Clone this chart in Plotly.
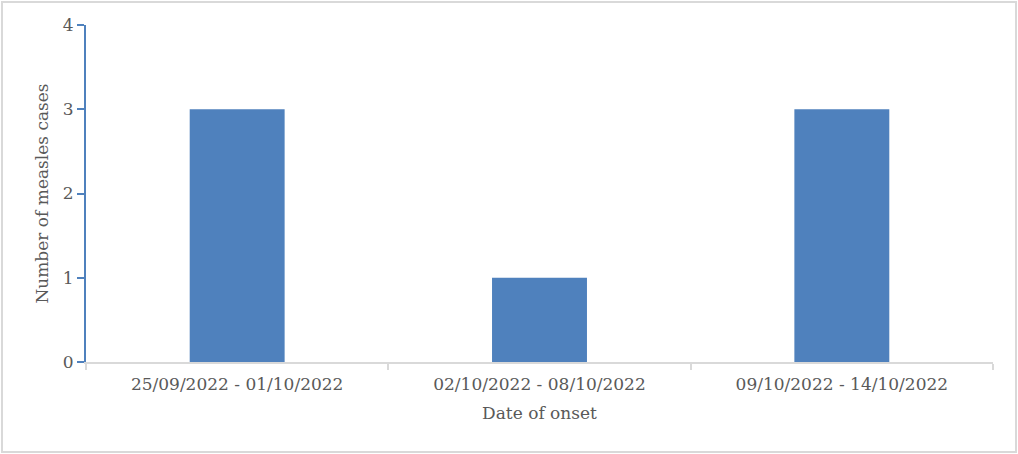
import plotly.graph_objects as go

categories = ["25/09/2022 - 01/10/2022", "02/10/2022 - 08/10/2022", "09/10/2022 - 14/10/2022"]
cases = [3, 1, 3]
y_ticks = [0, 1, 2, 3, 4]

W, H = 1018, 454
ml, mr, mt, mb = 86, 25, 25, 92
pw, ph = W - ml - mr, H - mt - mb

def px_x(x):
    return (x - ml) / pw

def px_y(y):
    return (H - mb - y) / ph

font_family = "DejaVu Serif, Liberation Serif, serif"
grey_text = "#595959"

fig = go.Figure(go.Bar(x=categories, y=cases, marker=dict(color="#4F81BD", line=dict(width=0)),
                       hoverinfo="skip"))

fig.update_layout(
    width=W, height=H,
    margin=dict(l=ml, r=mr, t=mt, b=mb),
    paper_bgcolor="white", plot_bgcolor="white",
    bargap=0.686,
    showlegend=False,
    font=dict(family=font_family, size=17, color=grey_text),
    xaxis=dict(
        showline=True, linecolor="#D9D9D9", linewidth=2,
        ticks="outside", tickson="boundaries", ticklen=6, tickcolor="#D9D9D9", tickwidth=2,
        ticklabelstandoff=6,
        showgrid=False, tickfont=dict(size=17, color=grey_text),
        title=dict(text="Date of onset", font=dict(size=17, color=grey_text), standoff=14),
    ),
    yaxis=dict(
        range=[0, 4], tickvals=y_ticks, showline=True, linecolor="#4F81BD", linewidth=2,
        ticks="outside", ticklen=7, tickcolor="#4F81BD", tickwidth=2,
        showgrid=False, zeroline=False, tickfont=dict(size=17, color=grey_text),
        title=dict(text="Number of measles cases", font=dict(size=17, color=grey_text), standoff=10),
    ),
    shapes=[dict(type="rect", xref="paper", yref="paper",
                 x0=px_x(2), x1=px_x(1016), y0=px_y(2), y1=px_y(452),
                 line=dict(color="#D9D9D9", width=2), fillcolor="rgba(0,0,0,0)", layer="below")],
)

fig.write_html("out.html", config={"displayModeBar": False},
               post_script="document.body.style.margin='0';document.body.style.overflow='hidden';")
